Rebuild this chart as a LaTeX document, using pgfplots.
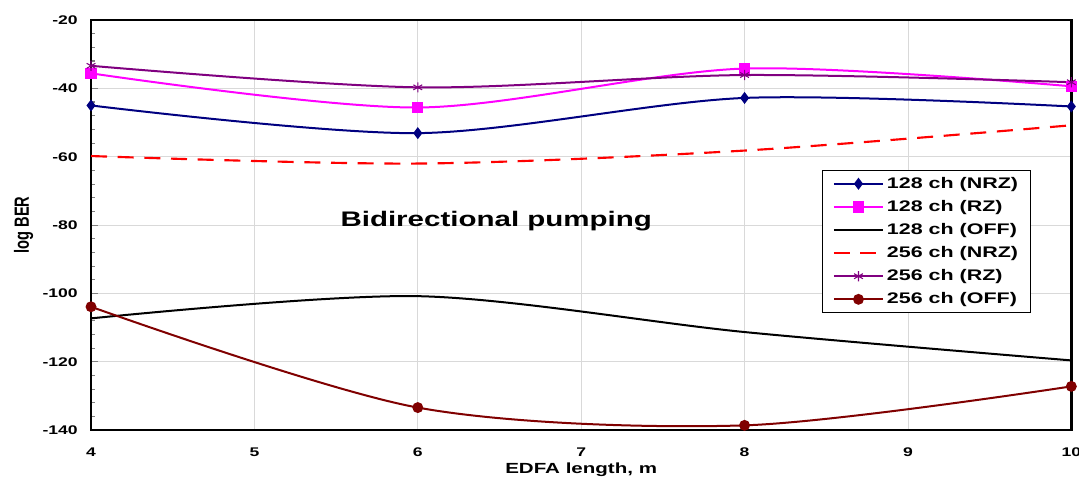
\documentclass[border=0pt]{standalone}
\usepackage{fontspec}
\setmainfont{Liberation Sans}[FakeStretch=1.4]
\newfontfamily\plainfont{Liberation Sans}
\usepackage{pgfplots}
\pgfplotsset{compat=1.18}
\definecolor{cNavy}{RGB}{0,0,128}
\definecolor{cMag}{RGB}{255,0,255}
\definecolor{cRed}{RGB}{255,0,0}
\definecolor{cPur}{RGB}{128,0,128}
\definecolor{cDR}{RGB}{128,0,0}
\begin{document}
\begin{tikzpicture}
\begin{axis}[
  scale only axis, width=735pt, height=307.5pt,
  xmin=4, xmax=10, ymin=-140, ymax=-20,
  xtick={4,5,...,10}, ytick={-140,-120,...,-20},
  minor y tick num=4,
  grid=major, major grid style={gray!30, line width=0.5pt},
  axis line style={line width=2pt},
  xtick style={draw=none},
  ytick pos=left, tick align=inside,
  ytick style={line width=0.8pt}, minor tick style={line width=0.8pt},
  major tick length=5pt, minor tick length=3pt,
  /pgf/number format/assume math mode=true,
  ticklabel style={font=\fontsize{9.4}{11}\selectfont\bfseries},
  xticklabel style={yshift=-10pt},
  yticklabel style={xshift=-6.5pt},
  xlabel={EDFA length, m},
  xlabel style={font=\fontsize{11}{13}\selectfont\bfseries, at={(rel axis cs:0.5,0)}, anchor=north, inner sep=0pt, yshift=-24pt},
  ylabel={\scalebox{1}[1.4]{log BER}},
  ylabel style={font=\plainfont\fontsize{11}{13}\selectfont\bfseries, at={(rel axis cs:0,0.5)}, anchor=center, yshift=50.5pt},
  legend style={at={(rel axis cs:0.746,0.634)}, anchor=north west, draw=black, line width=0.6pt,
    font=\fontsize{11.5}{13}\selectfont\bfseries, row sep=3.5pt, inner xsep=7.5pt, inner ysep=3pt,
    cells={anchor=west}},
  legend image code/.code={\draw[mark repeat=2,mark phase=2,#1] plot coordinates {(6pt,0pt) (24.5pt,0pt) (43pt,0pt)};},
]
\addplot[cNavy, line width=1.5pt, smooth, mark=diamond*, mark size=3.3pt, mark options={solid}] coordinates {(4,-45) (6,-53.1) (8,-42.8) (10,-45.3)};
\addlegendentry{128 ch (NRZ)}
\addplot[cMag, line width=1.5pt, smooth, mark=square*, mark size=3.5pt, mark options={solid}] coordinates {(4,-35.6) (6,-45.6) (8,-34.2) (10,-39.4)};
\addlegendentry{128 ch (RZ)}
\addplot[black, line width=1.5pt, smooth] coordinates {(4,-107.3) (6,-100.8) (8,-111.3) (10,-119.6)};
\addlegendentry{128 ch (OFF)}
\addplot[cRed, line width=1.6pt, smooth, dash pattern=on 12pt off 8pt] coordinates {(4,-59.8) (6,-62) (8,-58.2) (10,-50.8)};
\addlegendentry{256 ch (NRZ)}
\addplot[cPur, line width=1.5pt, smooth, mark=asterisk, mark size=3.8pt, mark options={solid, line width=0.8pt}] coordinates {(4,-33.4) (6,-39.7) (8,-36.1) (10,-38.2)};
\addlegendentry{256 ch (RZ)}
\addplot[cDR, line width=1.5pt, smooth, mark=*, mark size=3.3pt, mark options={solid}] coordinates {(4,-103.9) (6,-133.4) (8,-138.6) (10,-127.2)};
\addlegendentry{256 ch (OFF)}
\node[font=\fontsize{15.8}{18}\selectfont\bfseries, anchor=base] at (axis cs:6.48,-80.5) {Bidirectional pumping};
\end{axis}
\pgfresetboundingbox
\path[use as bounding box] (-68.25pt,-37.5pt) rectangle (740.75pt,322.5pt);
\end{tikzpicture}
\end{document}
